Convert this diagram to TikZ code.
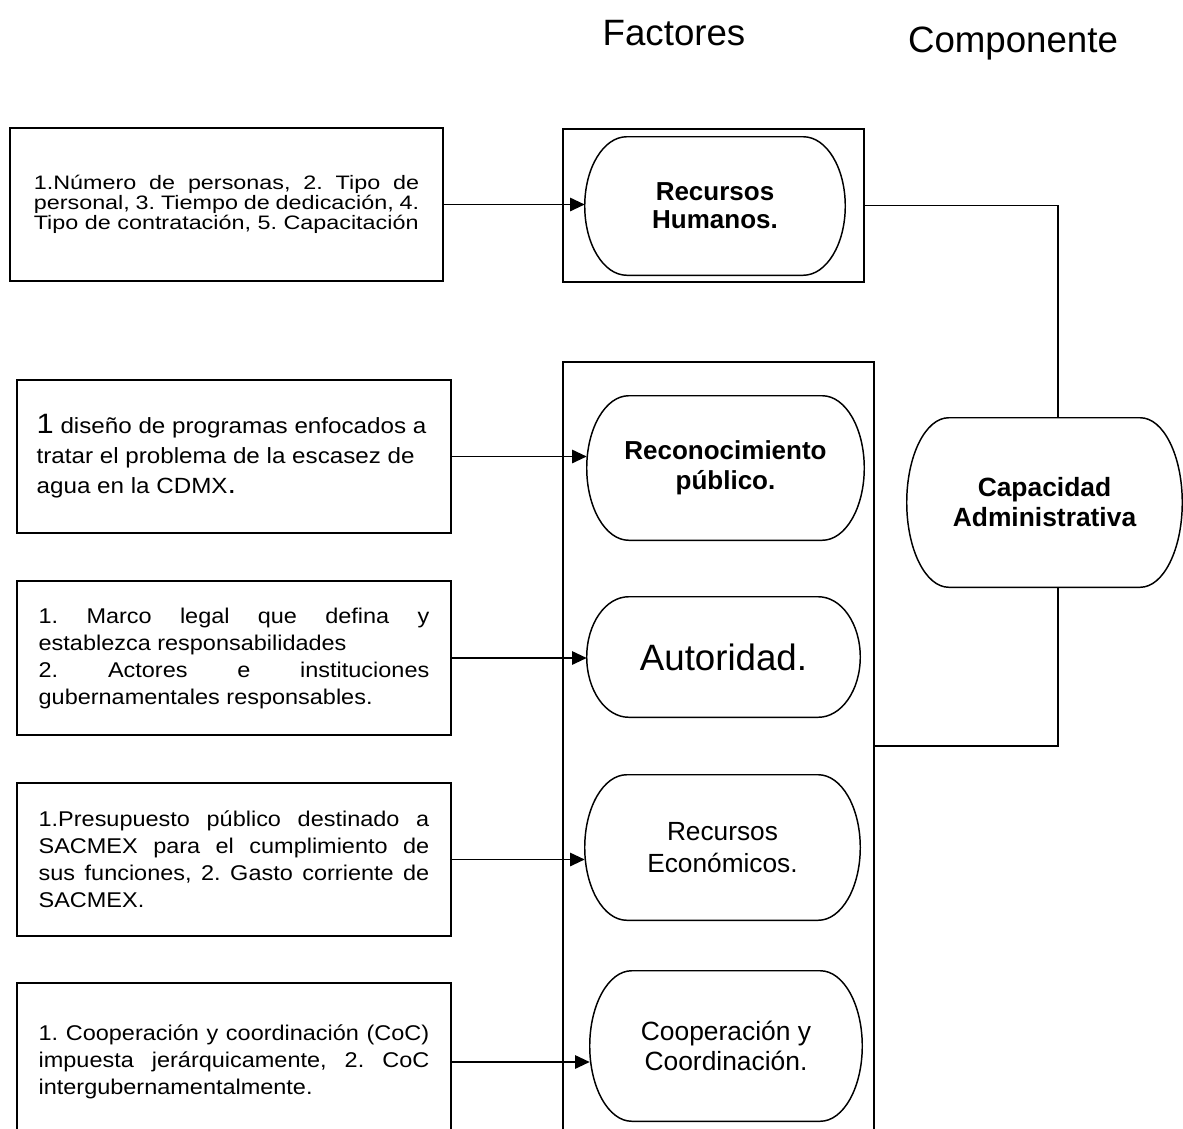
\documentclass[tikz,border=0pt]{standalone}
\usepackage{fontspec}
\setmainfont{Liberation Sans}
\newfontfamily\boxfont[FakeStretch=1.1]{Liberation Sans}
\newfontfamily\boxfontw[FakeStretch=1.2]{Liberation Sans}
\usetikzlibrary{arrows.meta,calc}
\frenchspacing
\newcommand\rs{\spaceskip=0pt\xspaceskip=0pt\hyphenpenalty=10000 }
\newcommand\jl[2][293pt]{{\spaceskip=0pt\xspaceskip=0pt\makebox[#1][s]{#2}}}
\newcommand\stadoutline[1]{%
  \draw[stadline] let \p1=(#1.north west), \p2=(#1.south east) in
    (\x1+31.5pt,\y1) -- (\x2-31.5pt,\y1)
    arc[start angle=90,end angle=-90,x radius=31.5pt,y radius={(\y1-\y2)/2}]
    -- (\x1+31.5pt,\y2)
    arc[start angle=270,end angle=90,x radius=31.5pt,y radius={(\y1-\y2)/2}]
    -- cycle;}
\tikzset{
  lbox/.style={draw, line width=1.4pt, inner sep=0pt, text width=293pt, align=left},
  frame/.style={draw, line width=1.4pt, inner sep=0pt},
  stad/.style={inner sep=0pt, align=center},
  stadline/.style={line width=1.1pt},
  arr/.style={line width=1.4pt, -{Triangle[length=11pt,width=10pt]}},
  conn/.style={line width=1.4pt},
  title/.style={anchor=base, inner sep=0pt, font=\fontsize{27.5}{30}\selectfont}
}
\begin{document}
\begin{tikzpicture}[x=0.75pt,y=-0.75pt]
\useasboundingbox (0,0) rectangle (1183,1129);
\clip (0,0) rectangle (1183,1129);
\fill[white] (0,0) rectangle (1183,1129);

% titles
\node[title] (tf) at (674,45) {Factores};
\node[title] (tc) at (1013,52) {Componente};

% left boxes
\node[lbox, text width=289pt, minimum width=324.75pt, minimum height=114.75pt,
      font=\boxfontw\fontsize{14.6}{15}\selectfont] (b1) at (226.5,204.5)
  {\rs\jl[289pt]{1.Número de personas, 2. Tipo de}\\
   \jl[289pt]{personal, 3. Tiempo de dedicación, 4.}\\
   Tipo de contratación, 5. Capacitación};
\node[lbox, text width=296pt, minimum width=325.5pt, minimum height=114.75pt,
      font=\boxfont\fontsize{16.5}{22.5}\selectfont] (b2) at (234,456.5)
  {\rs{\fontsize{21}{22.5}\selectfont 1} diseño de programas enfocados a\\
   tratar el problema de la escasez de\\
   agua en la CDMX{\fontsize{21}{22.5}\selectfont .}};
\node[lbox, minimum width=325.5pt, minimum height=115.5pt,
      font=\boxfont\fontsize{16}{20.25}\selectfont] (b3) at (234,658)
  {\rs\jl{1. Marco legal que defina y}\\
   establezca responsabilidades\\
   \jl{2. Actores e instituciones}\\
   gubernamentales responsables.};
\node[lbox, minimum width=325.5pt, minimum height=114.75pt,
      font=\boxfont\fontsize{16}{20.25}\selectfont] (b4) at (234,859.5)
  {\rs\jl{1.Presupuesto público destinado a}\\
   \jl{SACMEX para el cumplimiento de}\\
   \jl{sus funciones, 2. Gasto corriente de}\\
   SACMEX.};
\node[lbox, minimum width=325.5pt, minimum height=118.5pt,
      font=\boxfont\fontsize{16}{20.5}\selectfont] (b5) at (234,1062)
  {\rs\jl{1. Cooperación y coordinación (CoC)}\\
   \jl{impuesta jerárquicamente, 2. CoC}\\
   intergubernamentalmente.};

% factor frames
\node[frame, minimum width=225.75pt, minimum height=114.75pt] (rhbox) at (713.5,205.5) {};
\node[frame, minimum width=233.25pt, minimum height=576pt] (big) at (718.5,746) {};

% stadium nodes
\node[stad, minimum width=195pt, minimum height=103.5pt,
      font=\bfseries\fontsize{19.5}{21}\selectfont] (rh) at (715,206) {Recursos\\Humanos.};
\node[stad, minimum width=207.75pt, minimum height=108pt,
      font=\bfseries\fontsize{19.5}{22.5}\selectfont] (rp) at (725.5,468) {Reconocimiento\\público.};
\node[stad, minimum width=204.75pt, minimum height=90pt,
      font=\fontsize{27.5}{30}\selectfont] (au) at (723.5,657) {Autoridad.};
\node[stad, minimum width=206.25pt, minimum height=108.75pt,
      font=\fontsize{19.7}{23.5}\selectfont] (re) at (722.5,847.5) {Recursos\\Económicos.};
\node[stad, minimum width=204pt, minimum height=112.5pt,
      font=\fontsize{19.8}{22.5}\selectfont] (cc) at (726,1046) {Cooperación y\\Coordinación.};
\node[stad, minimum width=206.25pt, minimum height=126.75pt,
      font=\bfseries\fontsize{19.8}{22.5}\selectfont] (cap) at (1044.5,502.5) {Capacidad\\Administrativa};

\stadoutline{rh}
\stadoutline{rp}
\stadoutline{au}
\stadoutline{re}
\stadoutline{cc}
\stadoutline{cap}

% arrows
\draw[arr] (b1.east) -- (b1.east -| rh.west);
\draw[arr] (b2.east) -- (b2.east -| rp.west);
\draw[arr] (b3.east) -- (b3.east -| au.west);
\draw[arr] (b4.east) -- (b4.east -| re.west);
\draw[arr] (b5.east) -- (b5.east -| cc.west);

% connectors to component
\coordinate (j) at (1058,205);
\draw[conn] (rhbox.east) -| (j |- cap.north);
\draw[conn] (big.east) -| (j |- cap.south);
\end{tikzpicture}
\end{document}
